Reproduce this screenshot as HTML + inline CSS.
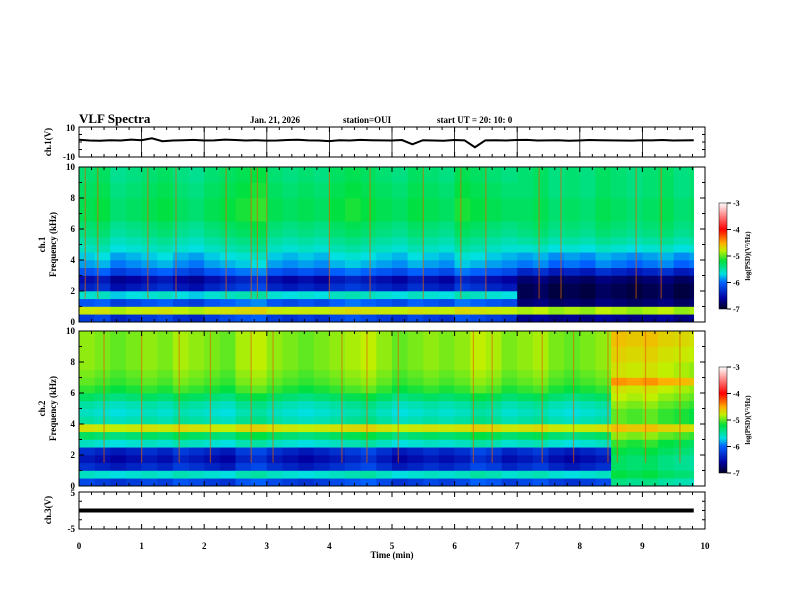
<!DOCTYPE html>
<html><head><meta charset="utf-8">
<style>
html,body{margin:0;padding:0;background:#fff;}
svg{display:block;font-family:"Liberation Serif",serif;font-weight:bold;}
</style></head>
<body>
<svg id="chart" width="792" height="612" viewBox="0 0 792 612" xmlns="http://www.w3.org/2000/svg">
<defs>
<linearGradient id="cbar" x1="0" y1="1" x2="0" y2="0">
<stop offset="0" stop-color="#000020"/><stop offset="0.1" stop-color="#0000a0"/><stop offset="0.25" stop-color="#0060ff"/>
<stop offset="0.33" stop-color="#00e0e0"/><stop offset="0.45" stop-color="#00e040"/><stop offset="0.55" stop-color="#c0f000"/>
<stop offset="0.62" stop-color="#ffb000"/><stop offset="0.75" stop-color="#ff0000"/><stop offset="1" stop-color="#ffffff"/>
</linearGradient>
</defs>
<g id="spec"></g>
<g id="axes"></g>
<text x="79" y="123" font-size="13">VLF Spectra</text>
<text x="250" y="123" font-size="9">Jan. 21, 2026</text>
<text x="343" y="123" font-size="9">station=OUI</text>
<text x="437" y="123" font-size="9">start  UT =   20: 10: 0</text>
</svg>
<script>
// ---- data ----
const freqBins = [0.25,0.75,1.25,1.75,2.25,2.75,3.25,3.75,4.25,4.75,5.25,5.75,6.25,6.75,7.25,7.75,8.25,8.75,9.25,9.75];
const ch1Early = [-6.4,-5.0,-6.3,-5.9,-6.5,-6.6,-6.3,-6.1,-6.0,-5.85,-5.75,-5.65,-5.6,-5.5,-5.5,-5.5,-5.55,-5.55,-5.6,-5.6];
const ch1Late  = [-6.7,-5.1,-6.8,-6.9,-6.9,-6.8,-6.5,-6.2,-6.1,-5.9,-5.75,-5.65,-5.6,-5.55,-5.55,-5.55,-5.6,-5.6,-5.6,-5.6];
const ch1LateStart = 7.0;
const ch2Early = [-6.4,-5.9,-6.5,-6.6,-6.5,-5.9,-5.6,-5.0,-5.8,-5.9,-5.8,-5.6,-5.4,-5.3,-5.25,-5.2,-5.2,-5.2,-5.2,-5.2];
const ch2Late  = [-5.8,-5.6,-5.7,-5.7,-5.6,-5.5,-5.3,-4.9,-5.4,-5.4,-5.3,-5.2,-5.1,-4.7,-5.1,-5.1,-5.0,-5.0,-4.9,-4.9];
const ch2LateStart = 8.5;
const timeOffsets1 = [0.1,0.2,-0.1,0.0,0.1,0.2,0.0,-0.1,0.1,0.2,0.3,0.4,0.1,0.0,0.1,0.0,0.2,0.3,0.2,0.1,0.0,0.2,0.1,0.0,0.3,0.2,0.1,0.0,0.1,0.2,0.0,0.1,0.0,0.2,0.1,0.0,0.1,0.2,0.0,0.1];
const timeOffsets2 = [0.2,0.1,0.0,0.1,0.2,0.1,0.3,0.2,0.1,0.0,0.3,0.4,0.2,0.1,0.0,0.1,0.2,0.3,0.4,0.2,0.0,0.1,0.2,0.1,0.2,0.4,0.3,0.1,0.2,0.3,0.1,0.0,0.1,0.2,0.4,0.3,0.4,0.2,0.1,0.0];
const bursts1 = [0.1,0.3,1.1,1.55,2.35,2.75,2.85,3.0,4.0,4.65,5.5,6.1,6.5,7.35,7.7,8.9,9.3];
const bursts2 = [0.4,1.0,1.6,2.1,2.75,3.1,4.2,4.6,5.1,6.3,6.6,7.4,7.9,8.45,8.6,9.05,9.6];
const ch1Wave = [1.5,1.0,0.8,1.2,1.0,1.6,1.2,2.5,0.5,1.0,1.2,1.4,1.0,1.1,1.6,1.3,1.0,1.2,0.9,1.0,1.3,1.5,1.1,1.0,0.6,1.2,1.0,1.4,1.2,1.1,1.0,1.3,-1.5,1.2,1.0,0.8,1.3,1.1,-3.5,1.1,1.2,1.0,1.3,1.4,1.0,1.1,1.2,0.8,1.0,1.3,1.2,1.1,1.0,0.9,1.2,1.1,1.3,1.0,1.1,1.2];
const ch3Value = 0;
const xTicks = [0,1,2,3,4,5,6,7,8,9,10];
const fTicks = [0,2,4,6,8,10];
const cbTicks = [-3,-4,-5,-6,-7];

// ---- scales ----
const X0=79,X1=705,SPEC_END=9.82;
const xs = t => X0 + t/10*(X1-X0);
const P1={top:167,bot:322}, P2={top:331,bot:486};
const fy = (p,f)=> p.bot - f/10*(p.bot-p.top);
const W={top:127,bot:157}, C3={top:492,bot:529};
const wy = v => W.bot - (v+10)/20*(W.bot-W.top);
const c3y = v => C3.bot - (v+5)/10*(C3.bot-C3.top);
const NS='http://www.w3.org/2000/svg';
const spec=document.getElementById('spec'), axes=document.getElementById('axes');
function el(tag,attrs,parent){const e=document.createElementNS(NS,tag);for(const k in attrs)e.setAttribute(k,attrs[k]);(parent||axes).appendChild(e);return e;}

const stops=[[-7,[0,0,32]],[-6.6,[0,0,160]],[-6.2,[0,96,255]],[-5.9,[0,224,224]],[-5.4,[0,224,64]],[-5.0,[192,240,0]],[-4.6,[255,176,0]],[-4.0,[255,0,0]],[-3,[255,255,255]]];
function cmap(v){if(v<=stops[0][0])return 'rgb(0,0,32)';for(let i=1;i<stops.length;i++){if(v<=stops[i][0]){const a=stops[i-1],b=stops[i];const r=(v-a[0])/(b[0]-a[0]);const c=a[1].map((x,j)=>Math.round(x+(b[1][j]-x)*r));return `rgb(${c})`;}}return '#fff';}

function drawSpec(p,early,late,lateStart,offs,bursts,name){
  const g=el('g',{},spec);
  
  
  const dt=10/offs.length;
  for(let ti=0;ti<offs.length;ti++){
    const t0=ti*dt; if(t0>=SPEC_END)break;
    const t1=Math.min(t0+dt,SPEC_END);
    for(let fi=0;fi<freqBins.length;fi++){
      const prof = (t0>=lateStart)?late:early;
      const v = prof[fi]+offs[ti]*0.5;
      const f0=freqBins[fi]-0.25,f1=freqBins[fi]+0.25;
      const r=el('rect',{x:xs(t0),y:fy(p,f1),width:xs(t1)-xs(t0)+0.3,height:fy(p,f0)-fy(p,f1)+0.3,fill:cmap(v)},g);
      
      
    }
  }
  bursts.forEach(b=>{
    const l=el('line',{x1:xs(b),x2:xs(b),y1:p.top,y2:fy(p,1.5),stroke:'#e06000','stroke-width':1.2,'stroke-opacity':0.6},g);
    
    
  });
}
drawSpec(P1,ch1Early,ch1Late,ch1LateStart,timeOffsets1,bursts1,'ch1-spectrogram');
drawSpec(P2,ch2Early,ch2Late,ch2LateStart,timeOffsets2,bursts2,'ch2-spectrogram');

// frames
[[W.top,W.bot,'ch1-waveform-frame'],[P1.top,P1.bot,'ch1-spec-frame'],[P2.top,P2.bot,'ch2-spec-frame'],[C3.top,C3.bot,'ch3-frame']].forEach(([t,b,n])=>{
  const r=el('rect',{x:X0,y:t,width:X1-X0,height:b-t,fill:'none',stroke:'#000','stroke-width':1});
  
  
  for(let k=0;k<=50;k++){const x=xs(k*0.2);const L=(k%5===0)?5:3;
    el('line',{x1:x,x2:x,y1:t,y2:t+L,stroke:'#000'});el('line',{x1:x,x2:x,y1:b,y2:b-L,stroke:'#000'});}
});
xTicks.forEach(m=>el('line',{x1:xs(m),x2:xs(m),y1:W.top,y2:W.bot,stroke:'#000','stroke-width':0.8}));
const wp=ch1Wave.map((v,i)=>`${xs(i/(ch1Wave.length-1)*SPEC_END)},${wy(v)}`).join(' ');
const wl=el('polyline',{points:wp,fill:'none',stroke:'#000','stroke-width':2});


const c3=el('line',{x1:X0,x2:xs(SPEC_END),y1:c3y(ch3Value),y2:c3y(ch3Value),stroke:'#000','stroke-width':4});



function txt(x,y,s,size,anchor,name,rot){const e=el('text',{x:x,y:y,'font-size':size,'text-anchor':anchor||'middle'});if(rot)e.setAttribute('transform',`rotate(-90 ${x} ${y})`);e.textContent=s;
  
  
  return e;}
txt(75,131,'10',9,'end','ch1-y-max');txt(75,160,'-10',9,'end','ch1-y-min');
[P1,P2].forEach((p,pi)=>{
  fTicks.forEach(f=>txt(75,fy(p,f)+3,String(f),9,'end','freq-tick-label'));
  for(let f=0;f<=10;f++){const L=(f%2===0)?5:3;el('line',{x1:X0,x2:X0+L,y1:fy(p,f),y2:fy(p,f),stroke:'#000'});el('line',{x1:X1,x2:X1-L,y1:fy(p,f),y2:fy(p,f),stroke:'#000'});}
  const cx=45,cy=(p.top+p.bot)/2;
  txt(cx,cy,'ch.'+(pi+1),9,'middle','ch'+(pi+1)+'-axis-title',true);
  txt(cx+11,cy,'Frequency (kHz)',9,'middle','frequency-axis-title',true);
  const ct=p.top+36,cb=p.top+142;
  const r=el('rect',{x:719,y:ct,width:8,height:cb-ct,fill:'url(#cbar)',stroke:'#000','stroke-width':0.5});
  
  
  cbTicks.forEach(v=>{const y=cb-(v+7)/4*(cb-ct);el('line',{x1:727,x2:731,y1:y,y2:y,stroke:'#000'});txt(733,y+3,String(v),8,'start','colorbar-tick');});
  txt(750,(ct+cb)/2,'log(PSD)(V²/Hz)',7,'middle','colorbar-title',true);
});
txt(51,142,'ch.1(V)',9,'middle','ch1-axis-title',true);
txt(51,510,'ch.3(V)',9,'middle','ch3-axis-title',true);
txt(75,496,'5',9,'end','ch3-y-max');txt(75,532,'-5',9,'end','ch3-y-min');
[-2.5,0,2.5].forEach(v=>{el('line',{x1:X0,x2:X0+3,y1:c3y(v),y2:c3y(v),stroke:'#000'});el('line',{x1:X1,x2:X1-3,y1:c3y(v),y2:c3y(v),stroke:'#000'});});
[-5,0,5].forEach(v=>{el('line',{x1:X0,x2:X0+3,y1:wy(v),y2:wy(v),stroke:'#000'});el('line',{x1:X1,x2:X1-3,y1:wy(v),y2:wy(v),stroke:'#000'});});
xTicks.forEach(m=>txt(xs(m),549,String(m),9,'middle','x-tick-label'));
txt(392,558,'Time (min)',9,'middle','x-axis-title');
</script>
</body></html>
